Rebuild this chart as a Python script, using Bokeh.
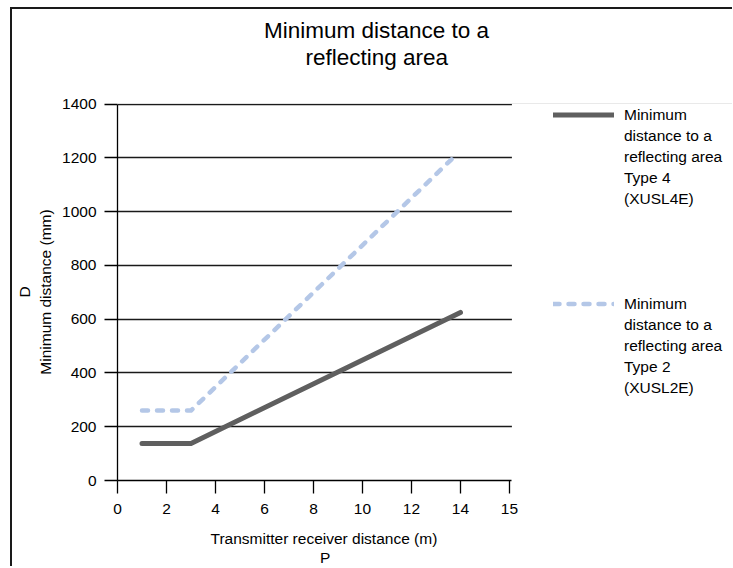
from bokeh.plotting import figure
from bokeh.models import (ColumnDataSource, FixedTicker, Range1d, Legend, LegendItem, Title,
                          BoxAnnotation)
from bokeh.embed import file_html
from bokeh.resources import INLINE

# ---------------- data ----------------
title_lines = ["Minimum distance to a", "reflecting area"]
x_label_lines = ["Transmitter receiver distance (m)", "P"]
y_axis_label = "D\nMinimum distance (mm)"

type4_x = [1, 3, 14]
type4_y = [138, 138, 625]
type2_x = [1, 3, 13.7]
type2_y = [260, 260, 1200]
type4_label_lines = ["Minimum", "distance to a", "reflecting area", "Type 4", "(XUSL4E)"]
type2_label_lines = ["Minimum", "distance to a", "reflecting area", "Type 2", "(XUSL2E)"]

x_tick_positions = [0, 2, 4, 6, 8, 10, 12, 14, 16]
x_tick_labels = ["0", "2", "4", "6", "8", "10", "12", "14", "15"]
y_ticks = [0, 200, 400, 600, 800, 1000, 1200, 1400]

FONT = "Liberation Sans"
SMALL = "15.5px"
NBSP = "\u00a0"

# layout: the frame also covers the legend area on the right;
# the data area (0..X_END) occupies the left 394.4 px of it
X_END = 16.1
Y_END = 1400
DATA_W = 394.4
FRAME_W = 615
x_range_end = X_END * FRAME_W / DATA_W

# canvas starts at page (12, 9) because of the CSS margin + border below
p = figure(width=720, height=559, output_backend="svg", toolbar_location=None,
           title=None, x_range=Range1d(0, x_range_end), y_range=Range1d(0, Y_END + 2))
p.frame_width = FRAME_W
p.margin = (7, 0, 0, 10)
p.styles = {"border-left": "2px solid #1a1a1a", "border-top": "2px solid #1a1a1a"}
p.min_border_left = 105
p.min_border_right = 0
p.min_border_top = 94
p.min_border_bottom = 88
p.outline_line_color = None
p.background_fill_color = "white"
p.border_fill_color = "white"

# axes
p.xaxis.ticker = FixedTicker(ticks=x_tick_positions)
p.xaxis.major_label_overrides = {pos: lab for pos, lab in zip(x_tick_positions, x_tick_labels)}
p.xaxis.bounds = (0, X_END)
p.yaxis.ticker = FixedTicker(ticks=y_ticks)
p.yaxis.bounds = (0, Y_END)
for ax in (p.xaxis[0], p.yaxis[0]):
    ax.axis_line_color = "black"
    ax.axis_line_width = 1.3
    ax.major_tick_line_color = "black"
    ax.major_tick_line_width = 1.3
    ax.major_tick_out = 13
    ax.major_tick_in = 0
    ax.minor_tick_line_color = None
    ax.major_label_text_font = FONT
    ax.major_label_text_font_size = SMALL
    ax.major_label_text_color = "black"
    ax.axis_label_text_font = FONT
    ax.axis_label_text_font_size = SMALL
    ax.axis_label_text_font_style = "normal"
    ax.axis_label_text_color = "black"
p.yaxis.major_label_standoff = 8
p.xaxis.major_label_standoff = 10
p.yaxis.axis_label = y_axis_label
p.yaxis.axis_label_standoff = 5
p.yaxis.axis_label_text_line_height = 1.25

p.xgrid.visible = False
p.ygrid.ticker = FixedTicker(ticks=y_ticks)
p.ygrid.grid_line_color = "#1a1a1a"
p.ygrid.grid_line_width = 1.3

# white mask so grid lines stop at the end of the data area
p.add_layout(BoxAnnotation(left=X_END, fill_color="white", fill_alpha=1.0,
                           line_color=None, level="underlay"))

# lines
src4 = ColumnDataSource(dict(x=type4_x, y=type4_y))
src2 = ColumnDataSource(dict(x=type2_x, y=type2_y))
r4 = p.line("x", "y", source=src4, line_color="#5f5f5f", line_width=5,
            line_cap="round", line_join="round")
r2 = p.line("x", "y", source=src2, line_color="#b4c7e7", line_width=4.5,
            line_dash="6 9", line_cap="round", line_join="round")

# legend: one item per text line, glyph on the first line of each entry
items = [LegendItem(label=type4_label_lines[0], renderers=[r4])]
items += [LegendItem(label=t, renderers=[]) for t in type4_label_lines[1:]]
items += [LegendItem(label=NBSP, renderers=[]) for _ in range(4)]
items += [LegendItem(label=type2_label_lines[0], renderers=[r2])]
items += [LegendItem(label=t, renderers=[]) for t in type2_label_lines[1:]]
legend = Legend(items=items, location=(436, 82), padding=0, spacing=0, margin=0,
                glyph_width=61, glyph_height=21, label_height=21, label_standoff=10,
                label_text_font=FONT, label_text_font_size=SMALL, label_text_color="black",
                border_line_color=None, background_fill_alpha=0)
p.add_layout(legend)

# title: spacer nearest the frame, then line 2, then line 1
p.add_layout(Title(text=NBSP, align="left", standoff=21, text_font=FONT,
                   text_font_size="10px"), "above")
p.add_layout(Title(text=title_lines[1], align="left", offset=188, standoff=0,
                   text_font=FONT, text_font_size="22.5px", text_font_style="normal",
                   text_color="black"), "above")
p.add_layout(Title(text=title_lines[0], align="left", offset=146.5, standoff=0,
                   text_font=FONT, text_font_size="22.5px", text_font_style="normal",
                   text_color="black"), "above")

# x axis title below the axis: spacer, then two lines
p.add_layout(Title(text=NBSP, align="left", standoff=0, text_font=FONT,
                   text_font_size="6px", vertical_align="top"), "below")
p.add_layout(Title(text=x_label_lines[0], align="left", offset=93, standoff=11,
                   vertical_align="top", text_font=FONT, text_font_size=SMALL,
                   text_font_style="normal", text_color="black"), "below")
p.add_layout(Title(text=x_label_lines[1], align="left", offset=202.5, standoff=-11,
                   vertical_align="top", text_font=FONT, text_font_size=SMALL,
                   text_font_style="normal", text_color="black"), "below")

open("out.html", "w").write(file_html(p, INLINE))
